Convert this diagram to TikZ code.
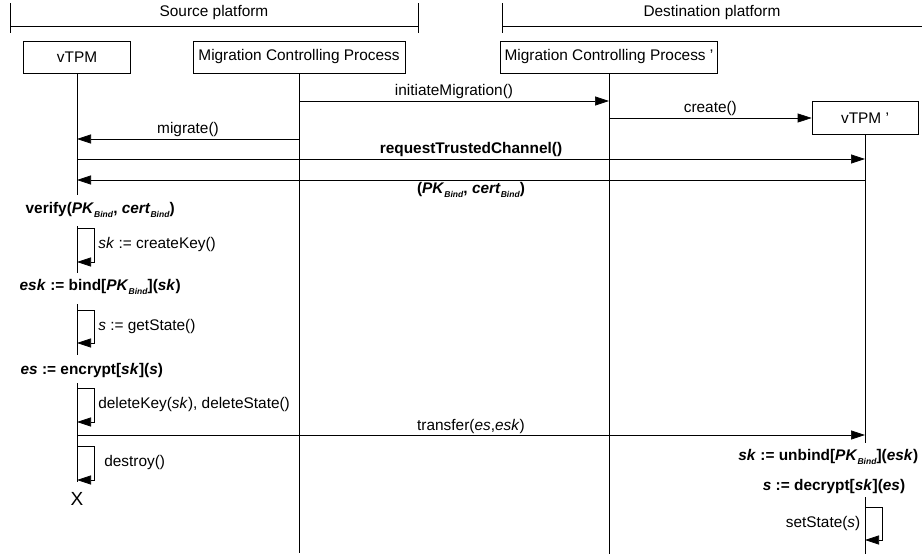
\documentclass[tikz,border=0pt]{standalone}
\usepackage{fontspec}
\setmainfont{Liberation Sans}
\usetikzlibrary{positioning,arrows.meta}

\newcommand{\bnd}{\raisebox{-4pt}{\fontsize{8.5}{9}\selectfont\textit{Bind}}}

\begin{document}
\begin{tikzpicture}[x=1pt,y=-1pt,line width=0.7pt,
 font=\fontsize{15.4}{18}\selectfont,
 actor/.style={draw,minimum height=32pt,inner sep=0pt},
 msg/.style={-{Triangle[length=14pt,width=9pt]}}]
 \useasboundingbox (0,0) rectangle (922,554);

% platforms
 \draw (10,3) -- (10,33) (10,26) -- (418,26) (418,3) -- (418,33);
 \node (srcplat) at (214,13) {Source platform};
 \draw (502,3) -- (502,33) (502,26) -- (922,26);
 \node (dstplat) at (712,13) {Destination platform};

 \node[actor,minimum width=107pt] (vtpm) at (77,57) {vTPM};
 \node[actor,minimum width=212pt] (mcp) at (299,57) {Migration Controlling Process};
 \node[actor,minimum width=217pt] (mcpd) at (609,57) {Migration Controlling Process '};
 \node[actor,minimum width=106pt,minimum height=33pt] (vtpmd) at (865,118) {vTPM '};

% lifeline points
 \coordinate (v1) at (77,195);
 \coordinate (v2) at (77,226);
 \coordinate (v3) at (77,273);
 \coordinate (v4) at (77,304);
 \coordinate (v5) at (77,355);
 \coordinate (v6) at (77,383);
 \coordinate (v7) at (77,482);
 \coordinate (mcpend) at (299,553);
 \coordinate (mcpdend) at (609,554);
 \coordinate (w1) at (865,443);
 \coordinate (w2) at (865,497);
 \coordinate (wend) at (865,554);

 \draw (vtpm) -- (v1) (v2) -- (v3) (v4) -- (v5) (v6) -- (v7);
 \draw (mcp) -- (mcpend);
 \draw (mcpd) -- (mcpdend);
 \draw (vtpmd) -- (w1) (w2) -- (wend);

% messages
 \coordinate (init1) at (299,101);
 \coordinate (init2) at (609,101);
 \coordinate (cr1) at (609,118);
 \coordinate (mig1) at (299,139);
 \coordinate (mig2) at (77,139);
 \coordinate (rtc1) at (77,159);
 \coordinate (rtc2) at (865,159);
 \coordinate (ret1) at (865,180);
 \coordinate (ret2) at (77,180);
 \coordinate (tr1) at (77,435);
 \coordinate (tr2) at (865,435);

 \draw [msg] (init1) -- node[above,inner sep=2pt] (initlbl) {initiateMigration()} (init2);
 \draw [msg] (cr1) -- node[above,inner sep=2pt] (crlbl) {create()} (vtpmd.west);
 \draw [msg] (mig1) -- node[above,inner sep=2pt] (miglbl) {migrate()} (mig2);
 \draw [msg] (rtc1) -- node[above,inner sep=2pt] (rtclbl) {\textbf{requestTrustedChannel()}} (rtc2);
 \draw [msg] (ret1) -- node[below,inner sep=2pt] (retlbl)
 {\textbf{(\textit{PK}\bnd, \textit{cert}\bnd)}} (ret2);
 \draw [msg] (tr1) -- node[above,inner sep=1pt] (trlbl) {transfer(\textit{es},\textit{esk})} (tr2);

% local steps
 \node[anchor=west] (verify) at (22,210)
 {\textbf{verify(\textit{PK}\bnd, \textit{cert}\bnd)}};
 \coordinate (ck1) at (77,228);
 \coordinate (ck2) at (77,262);
 \draw [msg] (ck1) -- ++(17,0) -- node[right,inner sep=4pt] (cklbl) {\textit{sk} := createKey()} ++(0,34) -- (ck2);

 \node[anchor=west] (bind) at (16,287)
 {\textbf{\textit{esk} := bind[\textit{PK}\bnd](\textit{sk})}};
 \coordinate (gs1) at (77,310);
 \coordinate (gs2) at (77,343);
 \draw [msg] (gs1) -- ++(17,0) -- node[right,inner sep=4pt] (gslbl) {\textit{s} := getState()} ++(0,33) -- (gs2);

 \node[anchor=west] (encrypt) at (17,371)
 {\textbf{\textit{es} := encrypt[\textit{sk}](\textit{s})}};
 \coordinate (dk1) at (77,388);
 \coordinate (dk2) at (77,422);
 \draw [msg] (dk1) -- ++(17,0) -- node[right,inner sep=4pt] (dklbl)
 {deleteKey(\textit{sk}), deleteState()} ++(0,34) -- (dk2);

 \coordinate (ds1) at (77,446);
 \coordinate (ds2) at (77,480);
 \draw [msg] (ds1) -- ++(17,0) -- node[right,inner sep=10pt] (dslbl) {destroy()} ++(0,34) -- (ds2);
 \node[font=\fontsize{19}{20}\selectfont,inner sep=0pt] (kill) at (77,499) {X};

 \node[anchor=east] (unbind) at (922,457)
 {\textbf{\textit{sk} := unbind[\textit{PK}\bnd](\textit{esk})}};
 \node (decrypt) at (834,487) {\textbf{\textit{s} := decrypt[\textit{sk}](\textit{es})}};
 \coordinate (ss1) at (865,507);
 \coordinate (ss2) at (865,540);
 \draw [msg] (ss1) -- ++(17,0) -- ++(0,33) -- (ss2);
 \node[left=1pt of ss1,yshift=-17pt] (sslbl) {setState(\textit{s})};
\end{tikzpicture}
\end{document}
